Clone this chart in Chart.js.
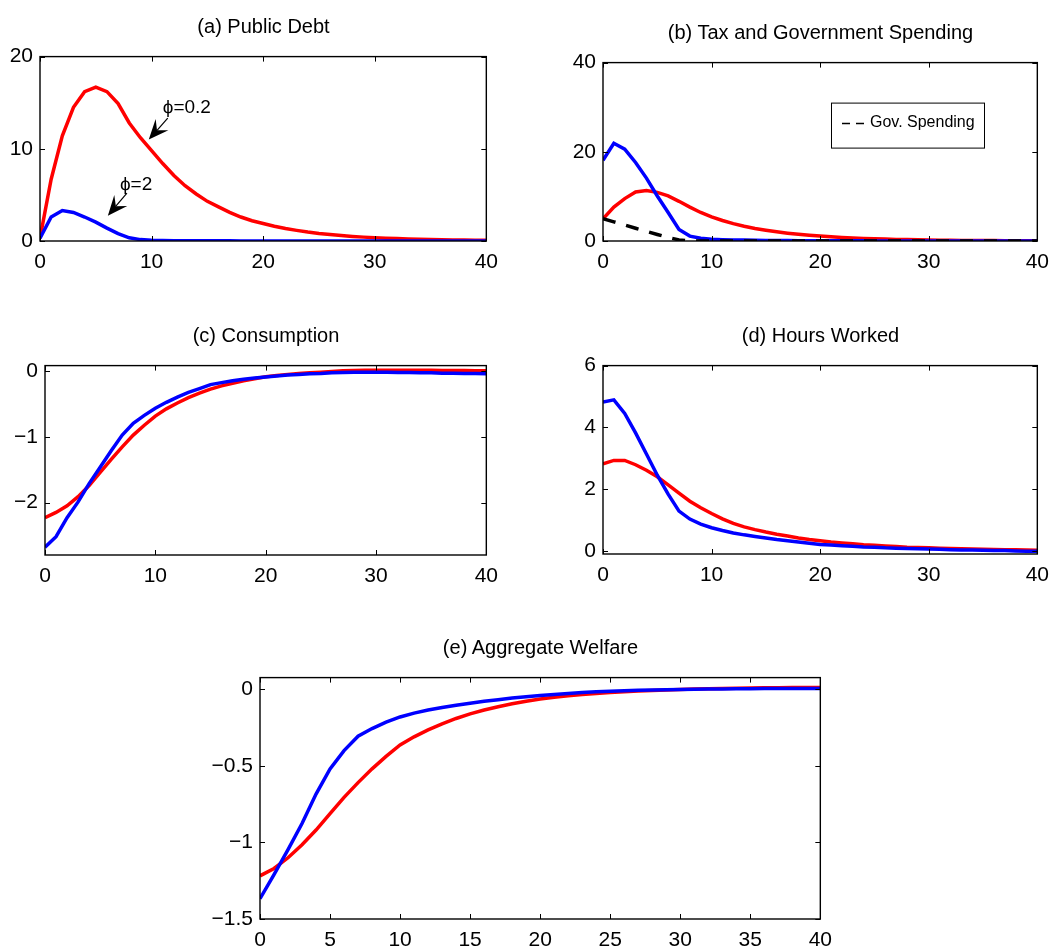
<!DOCTYPE html>
<html>
<head>
<meta charset="utf-8">
<script src="https://cdn.jsdelivr.net/npm/chart.js@4.4.1/dist/chart.umd.min.js"></script>
<style>
  html, body { margin: 0; padding: 0; background: #fff; overflow: hidden; }
  body { width: 1050px; height: 951px; position: relative; }
  canvas { position: absolute; }
  .title {
    position: absolute; text-align: center; color: #000; white-space: nowrap;
    font-family: 'Liberation Sans', Arial, sans-serif;
    font-size: 20px; line-height: 26px;
  }
</style>
</head>
<body>
<script>
// horizon (quarters)
const periods = Array.from({ length: 41 }, (_, i) => i)

// (a) public debt
const debtLow = [0.3, 6.7, 11.4, 14.5, 16.2, 16.7, 16.2, 14.9, 12.8, 11.2,
  9.8, 8.4, 7.1, 6.0, 5.1, 4.3, 3.7, 3.1, 2.6, 2.2,
  1.9, 1.6, 1.35, 1.15, 0.97, 0.82, 0.7, 0.59, 0.5, 0.42,
  0.36, 0.3, 0.26, 0.22, 0.19, 0.16, 0.13, 0.11, 0.1, 0.08, 0.07]
const debtHigh = [0.3, 2.6, 3.3, 3.1, 2.6, 2.05, 1.4, 0.8, 0.35, 0.15,
  0.08, 0.05, 0.04, 0.03, 0.03, 0.02, 0.02, 0.02, 0.01, 0.01,
  0.01, 0.01, 0.01, 0.01, 0, 0, 0, 0, 0, 0,
  0, 0, 0, 0, 0, 0, 0, 0, 0, 0, 0]

// (b) tax and government spending
const taxLow = [4.95, 7.6, 9.5, 11.0, 11.3, 10.9, 10.1, 8.9, 7.6, 6.4,
  5.4, 4.6, 3.9, 3.3, 2.8, 2.4, 2.05, 1.75, 1.5, 1.28,
  1.1, 0.94, 0.8, 0.68, 0.58, 0.5, 0.43, 0.36, 0.31, 0.27,
  0.23, 0.19, 0.17, 0.14, 0.12, 0.1, 0.09, 0.07, 0.06, 0.05, 0.05]
const taxHigh = [18.1, 21.9, 20.6, 17.6, 14.1, 10.1, 6.4, 2.6, 1.1, 0.6,
  0.4, 0.3, 0.25, 0.2, 0.17, 0.14, 0.12, 0.1, 0.08, 0.07,
  0.06, 0.05, 0.04, 0.03, 0.03, 0.02, 0.02, 0.02, 0.01, 0.01,
  0.01, 0.01, 0.01, 0, 0, 0, 0, 0, 0, 0, 0]
const govSpend = [5.0, 4.3, 3.6, 2.85, 2.15, 1.45, 0.8, 0.25, 0.05, 0,
  0, 0, 0, 0, 0, 0, 0, 0, 0, 0,
  0, 0, 0, 0, 0, 0, 0, 0, 0, 0,
  0, 0, 0, 0, 0, 0, 0, 0, 0, 0, 0]

// (c) consumption
const consLow = [-2.23, -2.15, -2.05, -1.91, -1.74, -1.54, -1.34, -1.15, -0.97, -0.82,
  -0.68, -0.57, -0.48, -0.4, -0.33, -0.27, -0.22, -0.18, -0.14, -0.11,
  -0.08, -0.06, -0.045, -0.03, -0.02, -0.01, 0.0, 0.01, 0.015, 0.02,
  0.02, 0.02, 0.02, 0.02, 0.02, 0.02, 0.015, 0.015, 0.015, 0.01, 0.01]
const consHigh = [-2.68, -2.52, -2.23, -1.99, -1.71, -1.46, -1.21, -0.97, -0.79, -0.67,
  -0.56, -0.47, -0.39, -0.32, -0.26, -0.2, -0.17, -0.14, -0.12, -0.1,
  -0.085, -0.07, -0.055, -0.045, -0.035, -0.03, -0.02, -0.015, -0.01, -0.01,
  -0.01, -0.01, -0.015, -0.015, -0.02, -0.02, -0.025, -0.025, -0.03, -0.03, -0.035]

// (d) hours worked
const hoursLow = [2.82, 2.93, 2.93, 2.79, 2.61, 2.4, 2.14, 1.87, 1.61, 1.4,
  1.21, 1.04, 0.89, 0.78, 0.69, 0.61, 0.54, 0.48, 0.42, 0.37,
  0.33, 0.29, 0.26, 0.23, 0.2, 0.18, 0.16, 0.14, 0.12, 0.11,
  0.1, 0.09, 0.08, 0.07, 0.06, 0.05, 0.045, 0.04, 0.035, 0.03, 0.02]
const hoursHigh = [4.82, 4.89, 4.45, 3.82, 3.14, 2.45, 1.84, 1.29, 1.03, 0.87,
  0.75, 0.66, 0.58, 0.52, 0.47, 0.42, 0.37, 0.33, 0.29, 0.25,
  0.21, 0.19, 0.17, 0.15, 0.13, 0.12, 0.1, 0.09, 0.08, 0.07,
  0.06, 0.05, 0.04, 0.03, 0.03, 0.02, 0.01, 0.01, 0.0, -0.01, -0.01]

// (e) aggregate welfare
const welfLow = [-1.218, -1.17, -1.1, -1.015, -0.919, -0.812, -0.705, -0.609, -0.519, -0.438,
  -0.363, -0.31, -0.265, -0.225, -0.19, -0.16, -0.135, -0.113, -0.094, -0.077,
  -0.063, -0.052, -0.042, -0.034, -0.027, -0.021, -0.016, -0.011, -0.007, -0.004,
  -0.001, 0.002, 0.004, 0.006, 0.008, 0.009, 0.01, 0.011, 0.012, 0.012, 0.013]
const welfHigh = [-1.367, -1.21, -1.047, -0.876, -0.684, -0.52, -0.4, -0.306, -0.256, -0.214,
  -0.18, -0.155, -0.135, -0.118, -0.103, -0.09, -0.078, -0.067, -0.057, -0.048,
  -0.04, -0.033, -0.027, -0.021, -0.016, -0.012, -0.009, -0.006, -0.004, -0.002,
  0.0, 0.001, 0.002, 0.003, 0.004, 0.004, 0.005, 0.005, 0.005, 0.005, 0.005]

// tick labels
const xTicks10 = [0, 10, 20, 30, 40]
const xTicks5 = [0, 5, 10, 15, 20, 25, 30, 35, 40]
const yTicksDebt = [0, 10, 20]
const yTicksTax = [0, 20, 40]
const yTicksCons = [-2, -1, 0]
const yTicksHours = [0, 2, 4, 6]
const yTicksWelf = [-1.5, -1, -0.5, 0]

// annotations in panel (a), data units
const phiNotes = [
  { text: 'ϕ=0.2', at: [11.0, 14.5], tail: [11.45, 13.33], tip: [9.75, 11.0] },
  { text: 'ϕ=2', at: [7.16, 6.14], tail: [7.79, 5.19], tip: [6.08, 2.75] }
]
const govLabel = 'Gov. Spending'

const FONT = "'Liberation Sans', Arial, sans-serif"
const RED = '#ff0000'
const BLUE = '#0000ff'
const ML = 50, MR = 20, MT = 15, MB = 32

Chart.defaults.font.family = FONT
Chart.defaults.color = '#000'

const toPoints = (vals) => vals.map((v, i) => ({ x: periods[i], y: v }))
const fmt = (v) => (v < 0 ? '\u2212' + Math.abs(v) : String(v))

// matlab style box with inward ticks
const framePlugin = {
  id: 'frame',
  afterDatasetsDraw(chart) {
    const { ctx, chartArea: a, scales: { x, y } } = chart
    ctx.save()
    ctx.strokeStyle = '#000'
    ctx.lineWidth = 1
    ctx.beginPath()
    x.ticks.forEach(t => {
      const px = Math.round(x.getPixelForValue(t.value)) + 0.5
      ctx.moveTo(px, a.bottom); ctx.lineTo(px, a.bottom - 5)
      ctx.moveTo(px, a.top); ctx.lineTo(px, a.top + 5)
    })
    y.ticks.forEach(t => {
      const py = Math.round(y.getPixelForValue(t.value)) + 0.5
      ctx.moveTo(a.left, py); ctx.lineTo(a.left + 5, py)
      ctx.moveTo(a.right, py); ctx.lineTo(a.right - 5, py)
    })
    ctx.stroke()
    ctx.lineWidth = 1.4
    ctx.strokeRect(a.left, a.top, a.right - a.left, a.bottom - a.top)
    ctx.restore()
  }
}

const arrowPlugin = {
  id: 'arrows',
  afterDatasetsDraw(chart) {
    const { ctx, scales: { x, y } } = chart
    ctx.save()
    ctx.fillStyle = '#000'
    ctx.strokeStyle = '#000'
    ctx.lineWidth = 1.2
    ctx.font = '19px ' + FONT
    ctx.textBaseline = 'middle'
    phiNotes.forEach(n => {
      ctx.fillText(n.text, x.getPixelForValue(n.at[0]), y.getPixelForValue(n.at[1]))
      const x1 = x.getPixelForValue(n.tail[0]), y1 = y.getPixelForValue(n.tail[1])
      const x2 = x.getPixelForValue(n.tip[0]), y2 = y.getPixelForValue(n.tip[1])
      const ang = Math.atan2(y2 - y1, x2 - x1)
      const ux = Math.cos(ang), uy = Math.sin(ang)
      const L = 20, W = 8.5, N = 0.62
      ctx.beginPath()
      ctx.moveTo(x1, y1); ctx.lineTo(x2 - ux * L * N, y2 - uy * L * N)
      ctx.stroke()
      ctx.beginPath()
      ctx.moveTo(x2, y2)
      ctx.lineTo(x2 - ux * L - uy * W, y2 - uy * L + ux * W)
      ctx.lineTo(x2 - ux * L * N, y2 - uy * L * N)
      ctx.lineTo(x2 - ux * L + uy * W, y2 - uy * L - ux * W)
      ctx.closePath()
      ctx.fill()
    })
    ctx.restore()
  }
}

const legendPlugin = {
  id: 'govLegend',
  afterDraw(chart) {
    const { ctx, chartArea: a } = chart
    const bx = a.left + 228, by = a.top + 40, bw = 153, bh = 45
    ctx.save()
    ctx.fillStyle = '#fff'
    ctx.fillRect(bx, by, bw, bh)
    ctx.strokeStyle = '#000'
    ctx.lineWidth = 1
    ctx.strokeRect(bx + 0.5, by + 0.5, bw, bh)
    ctx.setLineDash([8, 6])
    ctx.lineWidth = 1.5
    ctx.beginPath()
    ctx.moveTo(bx + 11, by + 21); ctx.lineTo(bx + 33, by + 21)
    ctx.stroke()
    ctx.setLineDash([])
    ctx.fillStyle = '#000'
    ctx.font = '16px ' + FONT
    ctx.textBaseline = 'middle'
    ctx.fillText(govLabel, bx + 39, by + 20)
    ctx.restore()
  }
}

const line = (vals, color, dash) => ({
  data: toPoints(vals),
  borderColor: color,
  borderWidth: 3.5,
  borderDash: dash || [],
  pointRadius: 0,
  tension: 0,
  fill: false
})

// first dataset is drawn on top
const panels = [
  { title: '(a) Public Debt', box: [40, 52, 487, 241], yMin: 0, yMax: 20,
    xTicks: xTicks10, yTicks: yTicksDebt,
    datasets: [line(debtHigh, BLUE), line(debtLow, RED)], extra: [arrowPlugin] },
  { title: '(b) Tax and Government Spending', box: [603, 58, 1038, 241], yMin: 0, yMax: 40,
    xTicks: xTicks10, yTicks: yTicksTax,
    datasets: [line(govSpend, '#000', [13, 11]), line(taxHigh, BLUE), line(taxLow, RED)], extra: [legendPlugin] },
  { title: '(c) Consumption', box: [45, 361, 487, 555], yMin: -2.8, yMax: 0.09,
    xTicks: xTicks10, yTicks: yTicksCons,
    datasets: [line(consHigh, BLUE), line(consLow, RED)], extra: [] },
  { title: '(d) Hours Worked', box: [603, 361, 1038, 554], yMin: -0.1, yMax: 6,
    xTicks: xTicks10, yTicks: yTicksHours,
    datasets: [line(hoursHigh, BLUE), line(hoursLow, RED)], extra: [] },
  { title: '(e) Aggregate Welfare', box: [260, 673, 821, 919], yMin: -1.5, yMax: 0.077,
    xTicks: xTicks5, yTicks: yTicksWelf,
    datasets: [line(welfHigh, BLUE), line(welfLow, RED)], extra: [] }
]

panels.forEach(p => {
  const [l, t, r, b] = p.box
  const canvas = document.createElement('canvas')
  const w = r - l + ML + MR, h = b - t + MT + MB
  canvas.width = w; canvas.height = h
  canvas.style.width = w + 'px'; canvas.style.height = h + 'px'
  canvas.style.left = (l - ML) + 'px'; canvas.style.top = (t - MT) + 'px'
  document.body.appendChild(canvas)

  const title = document.createElement('div')
  title.className = 'title'
  title.textContent = p.title
  title.style.left = l + 'px'
  title.style.width = (r - l) + 'px'
  title.style.top = (t - 39) + 'px'
  document.body.appendChild(title)

  new Chart(canvas.getContext('2d'), {
    type: 'line',
    data: { datasets: p.datasets },
    options: {
      responsive: false,
      animation: false,
      devicePixelRatio: 1,
      layout: { autoPadding: false, padding: { left: 0, right: MR, top: MT, bottom: 0 } },
      plugins: { legend: { display: false }, tooltip: { enabled: false }, title: { display: false } },
      scales: {
        x: {
          type: 'linear', min: 0, max: 40,
          grid: { display: false, drawTicks: false },
          border: { display: false },
          ticks: { padding: 9, font: { size: 21 }, maxRotation: 0, autoSkip: false, callback: fmt },
          afterBuildTicks: s => { s.ticks = p.xTicks.map(v => ({ value: v })) },
          afterFit: s => { s.height = MB }
        },
        y: {
          type: 'linear', min: p.yMin, max: p.yMax,
          grid: { display: false, drawTicks: false },
          border: { display: false },
          ticks: { padding: 7, font: { size: 21 }, autoSkip: false, callback: fmt },
          afterBuildTicks: s => { s.ticks = p.yTicks.map(v => ({ value: v })) },
          afterFit: s => { s.width = ML }
        }
      }
    },
    plugins: [framePlugin, ...p.extra]
  })
})
</script>
</body>
</html>
